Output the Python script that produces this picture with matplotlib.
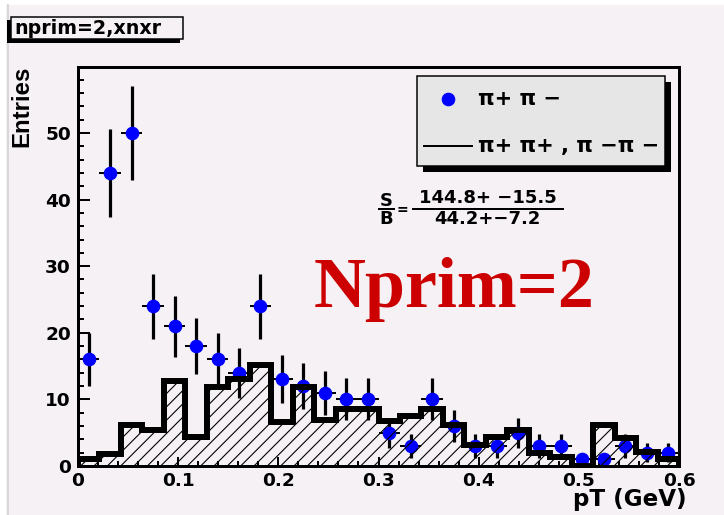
import matplotlib
matplotlib.use("Agg")
import matplotlib.pyplot as plt
from matplotlib.patches import Rectangle
from matplotlib.lines import Line2D
import numpy as np

# ---- canvas geometry (pixels) ----
W, H, DPI = 724, 515, 80
PT = 72.0 / DPI          # points per pixel

# ---- data ----
n_bins = 28
pt_range = (0.0, 0.6)
edges = np.linspace(pt_range[0], pt_range[1], n_bins + 1)
centers = 0.5 * (edges[:-1] + edges[1:])
half_width = 0.5 * (edges[1] - edges[0])

# unlike-sign pairs (pi+ pi-)
counts_unlike = [16, 44, 50, 24, 21, 18, 16, 14, 24, 13, 12, 11, 10, 10,
                 5, 3, 10, 6, 3, 3, 5, 3, 3, 1, 1, 3, 2, 2]
# like-sign pairs (pi+ pi+, pi- pi-), normalised
counts_like = [1.0, 1.8, 6.2, 5.4, 12.8, 4.4, 11.8, 13.0, 15.2, 6.6, 11.9,
               6.9, 8.5, 8.5, 6.7, 7.5, 8.5, 6.2, 3.2, 4.3, 5.4, 2.0, 1.4,
               0.0, 6.2, 4.2, 2.1, 1.1]

x_ticks = [0.0, 0.1, 0.2, 0.3, 0.4, 0.5, 0.6]
x_tick_labels = ["0", "0.1", "0.2", "0.3", "0.4", "0.5", "0.6"]
y_ticks = [0, 10, 20, 30, 40, 50]
y_tick_labels = ["0", "10", "20", "30", "40", "50"]

signal, signal_err = 144.8, 15.5
backgr, backgr_err = 44.2, 7.2

title_text = "nprim=2,xnxr"
label_unlike = "π+ π −"
label_like = "π+ π+ , π −π −"
big_label = "Nprim=2"

BG = "#f5f1f5"
BLUE = "#0000ff"
RED = "#cc0000"


def fx(px):
    return px / W


def fy(py):
    return 1.0 - py / H


plt.rcParams["hatch.linewidth"] = 1.1 * PT
plt.rcParams["font.family"] = ["DejaVu Sans"]

fig = plt.figure(figsize=(W / DPI, H / DPI), dpi=DPI, facecolor=BG)

# pad border
fig.add_artist(Rectangle((0, fy(5)), 1, fy(0) - fy(5), transform=fig.transFigure,
                         facecolor="white", edgecolor="none", zorder=0))
fig.add_artist(Rectangle((0, 0), fx(6), 1, transform=fig.transFigure,
                         facecolor="white", edgecolor="none", zorder=0))
fig.add_artist(Line2D([fx(7.5), fx(7.5)], [0, fy(5)], transform=fig.transFigure,
                      color="#d9d6d9", lw=2 * PT, zorder=0))

ax_l, ax_r, ax_t, ax_b = 78, 679, 67, 466
ax = fig.add_axes([fx(ax_l), fy(ax_b), fx(ax_r) - fx(ax_l), fy(ax_t) - fy(ax_b)])
ax.set_facecolor(BG)

y_unlike = np.array(counts_unlike, dtype=float)
y_err = np.sqrt(y_unlike)

# data points with errors
ax.errorbar(centers, y_unlike, yerr=y_err, fmt="none", ecolor="black",
            elinewidth=3.2 * PT, capsize=0, zorder=2)
ax.errorbar(centers, y_unlike, xerr=half_width, fmt="none", ecolor="black",
            elinewidth=2 * PT, capsize=0, zorder=2)
ax.plot(centers, y_unlike, "o", color=BLUE, ms=12.5 * PT, mec=BLUE, zorder=3)

# like-sign histogram: hatched fill + thick outline
ax.stairs(counts_like, edges, fill=True, facecolor="none", edgecolor="black",
          hatch="//", linewidth=0, zorder=4)
ax.stairs(counts_like, edges, fill=False, color="black", linewidth=6 * PT,
          baseline=0, zorder=5)

ax.set_xlim(*pt_range)
ax.set_ylim(0, 59.9)
ax.set_xticks(x_ticks)
ax.set_xticklabels(x_tick_labels)
ax.set_yticks(y_ticks)
ax.set_yticklabels(y_tick_labels)
ax.set_xticks(np.arange(0, 0.6001, 0.02), minor=True)
ax.set_yticks(np.arange(0, 59.9, 2), minor=True)

for sp in ax.spines.values():
    sp.set_linewidth(3 * PT)
    sp.set_zorder(6)

ax.tick_params(axis="y", which="major", direction="in", length=12 * PT,
               width=2 * PT, pad=7 * PT, labelsize=18.5 * PT)
ax.tick_params(axis="y", which="minor", direction="in", length=6 * PT,
               width=2 * PT)
ax.tick_params(axis="x", which="major", direction="in", length=9 * PT,
               width=2 * PT, pad=6 * PT, labelsize=18.5 * PT)
ax.tick_params(axis="x", which="minor", direction="in", length=5 * PT,
               width=2 * PT)
for lab in ax.get_xticklabels() + ax.get_yticklabels():
    lab.set_fontweight("bold")

# axis titles
fig.text(fx(22), fy(66), "Entries", rotation=90, ha="center", va="top",
         fontsize=24 * PT, fontweight="bold", family="Liberation Sans")
fig.text(fx(687), fy(506), "pT (GeV)", ha="right", va="baseline",
         fontsize=23 * PT, fontweight="bold")

# title pave
fig.add_artist(Rectangle((fx(7), fy(43)), fx(180) - fx(7), fy(20) - fy(43),
                         transform=fig.transFigure, facecolor="black",
                         edgecolor="none", zorder=7))
fig.add_artist(Rectangle((fx(11), fy(39)), fx(183) - fx(11), fy(17) - fy(39),
                         transform=fig.transFigure, facecolor=BG,
                         edgecolor="black", lw=1.5 * PT, zorder=8))
fig.text(fx(14), fy(28.5), title_text, ha="left", va="center",
         fontsize=19 * PT, fontweight="bold", zorder=9)

# legend box
lg_l, lg_r, lg_t, lg_b = 417, 665, 76, 166
fig.add_artist(Rectangle((fx(lg_l + 6), fy(lg_b + 6)), fx(lg_r) - fx(lg_l),
                         fy(lg_t) - fy(lg_b), transform=fig.transFigure,
                         facecolor="black", edgecolor="none", zorder=7))
fig.add_artist(Rectangle((fx(lg_l), fy(lg_b)), fx(lg_r) - fx(lg_l),
                         fy(lg_t) - fy(lg_b), transform=fig.transFigure,
                         facecolor="#e6e6e6", edgecolor="black", lw=1.5 * PT,
                         zorder=8))
fig.add_artist(Line2D([fx(448)], [fy(99)], transform=fig.transFigure,
                      marker="o", color=BLUE, ms=12.5 * PT, ls="none", zorder=9))
fig.add_artist(Line2D([fx(424), fx(472)], [fy(146), fy(146)],
                      transform=fig.transFigure, color="black", lw=2 * PT,
                      zorder=9))
fig.text(fx(478), fy(99), label_unlike, ha="left", va="center",
         fontsize=21 * PT, fontweight="bold", zorder=9)
fig.text(fx(478), fy(146), label_like, ha="left", va="center",
         fontsize=21 * PT, fontweight="bold", zorder=9)

# S/B annotation
sb_size = 18 * PT
fig.text(fx(386), fy(201), "S", ha="center", va="center", fontsize=sb_size,
         fontweight="bold")
fig.text(fx(386), fy(219), "B", ha="center", va="center", fontsize=sb_size,
         fontweight="bold")
fig.add_artist(Line2D([fx(379), fx(394)], [fy(209), fy(209)],
                      transform=fig.transFigure, color="black", lw=2 * PT))
fig.text(fx(402), fy(210), "=", ha="center", va="center", fontsize=14 * PT,
         fontweight="bold")
fig.text(fx(488), fy(198.5), f"{signal}+ −{signal_err}", ha="center",
         va="center", fontsize=sb_size, fontweight="bold")
fig.add_artist(Line2D([fx(413), fx(563)], [fy(208.5), fy(208.5)],
                      transform=fig.transFigure, color="black", lw=2 * PT))
fig.text(fx(487), fy(219), f"{backgr}+−{backgr_err}", ha="center",
         va="center", fontsize=sb_size, fontweight="bold")

# multiplicity label
fig.text(fx(454), fy(290), big_label, ha="center", va="center",
         fontsize=72 * PT, fontweight="bold", color=RED,
         family="Liberation Serif")

fig.savefig("out.png", dpi=DPI, facecolor=BG)
